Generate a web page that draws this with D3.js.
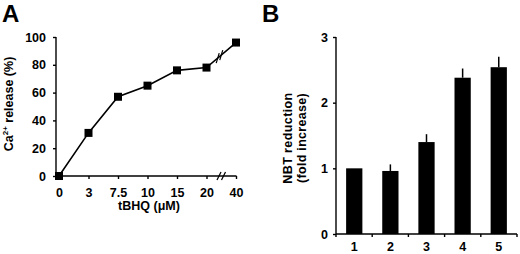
<!DOCTYPE html>
<html>
<head>
<meta charset="utf-8">
<script src="https://cdn.jsdelivr.net/npm/d3@7"></script>
<style>
  body { margin: 0; background: #fff; }
  svg { display: block; font-family: "Liberation Sans", Arial, sans-serif; font-weight: bold; }
  .axis path, .axis line { stroke: #000; stroke-width: 1.4; }
  .axis text { font-size: 12.5px; font-weight: bold; fill: #000; }
</style>
</head>
<body>
<svg id="chart" width="520" height="254"></svg>
<script>
// panel A: Ca2+ release vs tBHQ
const doseLabels = ["0", "3", "7.5", "10", "15", "20", "40"];
const caRelease = [0, 31, 57, 65, 76, 78, 96];
const caTicks = [0, 20, 40, 60, 80, 100];

// panel B: NBT reduction
const lanes = ["1", "2", "3", "4", "5"];
const nbtFold = [1.0, 0.96, 1.40, 2.38, 2.54];
const nbtErr = [0, 0.10, 0.12, 0.14, 0.16];
const nbtTicks = [0, 1, 2, 3];

const svg = d3.select("#chart");

// ---------- panel A ----------
const gA = svg.append("g");

const xA = d3.scalePoint().domain(doseLabels).range([59, 236]);
const yA = d3.scaleLinear().domain([0, 100]).range([176, 37]);

gA.append("g")
  .attr("class", "axis")
  .attr("transform", "translate(56,0)")
  .call(d3.axisLeft(yA).tickValues(caTicks).tickSize(3).tickSizeOuter(0).tickPadding(7))
  .call(g => g.select(".domain").remove())
  .call(g => g.append("line").attr("y1", yA(0)).attr("y2", yA(100)).attr("stroke", "#000").attr("stroke-width", 1.4));

gA.append("g")
  .attr("class", "axis")
  .attr("transform", `translate(0,${yA(0)})`)
  .call(d3.axisBottom(xA).tickSize(3).tickPadding(9))
  .call(g => g.select(".domain").remove())
  .call(g => g.select(".tick line").remove())
  .call(g => g.append("line").attr("x1", 56).attr("x2", 236.5).attr("stroke", "#000").attr("stroke-width", 1.4));

// break marks on x axis
[219, 223.5].forEach(bx => {
  gA.append("line")
    .attr("x1", bx - 2).attr("y1", yA(0) + 4)
    .attr("x2", bx + 2).attr("y2", yA(0) - 4)
    .attr("stroke", "#000").attr("stroke-width", 1.2);
});

const lineA = d3.line()
  .x((d, i) => xA(doseLabels[i]))
  .y(d => yA(d));

gA.append("path")
  .datum(caRelease)
  .attr("d", lineA)
  .attr("fill", "none")
  .attr("stroke", "#000")
  .attr("stroke-width", 1.6);

// break marks on the line between 20 and 40
const p20 = [xA("20"), yA(78)], p40 = [xA("40"), yA(96)];
[0.38, 0.5].forEach(t => {
  const cx = p20[0] + t * (p40[0] - p20[0]);
  const cy = p20[1] + t * (p40[1] - p20[1]);
  gA.append("line")
    .attr("x1", cx - 1.5).attr("y1", cy + 5)
    .attr("x2", cx + 1.5).attr("y2", cy - 5)
    .attr("stroke", "#000").attr("stroke-width", 1.2);
});

gA.selectAll("rect.pt")
  .data(caRelease)
  .join("rect")
  .attr("class", "pt")
  .attr("x", (d, i) => xA(doseLabels[i]) - 4)
  .attr("y", d => yA(d) - 4)
  .attr("width", 8)
  .attr("height", 8)
  .attr("fill", "#000");

gA.append("text")
  .attr("x", 149).attr("y", 210)
  .attr("text-anchor", "middle")
  .attr("font-size", 12.5)
  .html('tBHQ (μM)');

gA.append("text")
  .attr("transform", "translate(13,104) rotate(-90)")
  .attr("text-anchor", "middle")
  .attr("font-size", 12.5)
  .html('Ca<tspan font-size="8" dy="-5">2+</tspan><tspan dy="5"> release (%)</tspan>');

gA.append("text")
  .attr("x", 2).attr("y", 21.5)
  .attr("font-size", 24)
  .text("A");

// ---------- panel B ----------
const gB = svg.append("g");

const xB = d3.scaleBand().domain(lanes).range([336, 517]).paddingInner(0.55).paddingOuter(0.28);
const yB = d3.scaleLinear().domain([0, 3]).range([234, 37]);

gB.append("g")
  .attr("class", "axis")
  .attr("transform", "translate(336,0)")
  .call(d3.axisLeft(yB).tickValues(nbtTicks).tickFormat(d3.format("d")).tickSize(3).tickSizeOuter(0).tickPadding(5))
  .call(g => g.select(".domain").remove())
  .call(g => g.append("line").attr("y1", yB(0)).attr("y2", yB(3)).attr("stroke", "#000").attr("stroke-width", 1.4));

gB.append("g")
  .attr("class", "axis")
  .attr("transform", `translate(0,${yB(0)})`)
  .call(d3.axisBottom(xB).tickSize(0).tickPadding(8))
  .call(g => g.select(".domain").remove())
  .call(g => g.append("line").attr("x1", 336).attr("x2", 517).attr("stroke", "#000").attr("stroke-width", 1.4));

// ticks between lanes
const laneEdges = d3.range(lanes.length + 1).map(i => 336 + i * (517 - 336) / lanes.length);
gB.selectAll("line.sep")
  .data(laneEdges)
  .join("line")
  .attr("class", "sep")
  .attr("x1", d => d).attr("x2", d => d)
  .attr("y1", yB(0)).attr("y2", yB(0) + 3)
  .attr("stroke", "#000").attr("stroke-width", 1.4);

gB.selectAll("line.err")
  .data(nbtFold)
  .join("line")
  .attr("class", "err")
  .attr("x1", (d, i) => xB(lanes[i]) + xB.bandwidth() / 2)
  .attr("x2", (d, i) => xB(lanes[i]) + xB.bandwidth() / 2)
  .attr("y1", d => yB(d))
  .attr("y2", (d, i) => yB(d + nbtErr[i]))
  .attr("stroke", "#000")
  .attr("stroke-width", 1.5);

gB.selectAll("rect.bar")
  .data(nbtFold)
  .join("rect")
  .attr("class", "bar")
  .attr("x", (d, i) => xB(lanes[i]))
  .attr("y", d => yB(d))
  .attr("width", xB.bandwidth())
  .attr("height", d => yB(0) - yB(d))
  .attr("fill", "#000");

gB.append("text")
  .attr("transform", "translate(292,138) rotate(-90)")
  .attr("text-anchor", "middle")
  .attr("font-size", 12.5)
  .attr("letter-spacing", 0.4)
  .text("NBT reduction");

gB.append("text")
  .attr("transform", "translate(306,138) rotate(-90)")
  .attr("text-anchor", "middle")
  .attr("font-size", 12.5)
  .attr("letter-spacing", 0.3)
  .text("(fold increase)");

gB.append("text")
  .attr("x", 262).attr("y", 21.5)
  .attr("font-size", 24)
  .text("B");
</script>
</body>
</html>
